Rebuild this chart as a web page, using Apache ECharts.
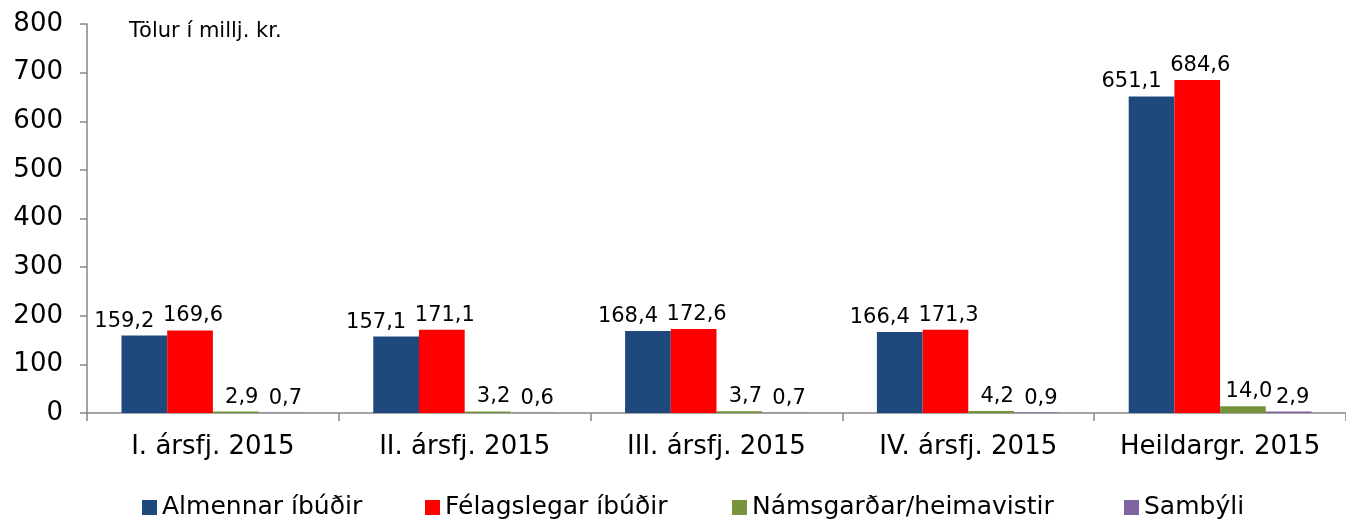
<!DOCTYPE html>
<html>
<head>
<meta charset="utf-8">
<script src="https://cdn.jsdelivr.net/npm/echarts@6/dist/echarts.min.js"></script>
<style>
  html, body { margin: 0; padding: 0; background: #fff; }
  #chart { width: 1346px; height: 519px; }
</style>
</head>
<body>
<div id="chart"></div>
<script>
// data
const categories = ['I. ársfj. 2015', 'II. ársfj. 2015', 'III. ársfj. 2015', 'IV. ársfj. 2015', 'Heildargr. 2015'];
const almennar = [159.2, 157.1, 168.4, 166.4, 651.1];
const felagslegar = [169.6, 171.1, 172.6, 171.3, 684.6];
const namsgardar = [2.9, 3.2, 3.7, 4.2, 14.0];
const sambyli = [0.7, 0.6, 0.7, 0.9, 2.9];
const yTicks = [0, 100, 200, 300, 400, 500, 600, 700, 800];

const font = '"DejaVu Sans", Verdana, sans-serif';
const fmt = p => p.value.toFixed(1).replace('.', ',');

const seriesDefs = [
  { name: 'Almennar íbúðir', data: almennar, color: '#1F497D', offset: [-20, 0] },
  { name: 'Félagslegar íbúðir', data: felagslegar, color: '#FF0000', offset: [3, 0] },
  { name: 'Námsgarðar/heimavistir', data: namsgardar, color: '#77933C', offset: [6, 0] },
  { name: 'Sambýli', data: sambyli, color: '#8064A2', offset: [4, 0] }
];
const legendLeft = [137, 420, 727, 1119];

const chart = echarts.init(document.getElementById('chart'));

chart.setOption({
  animation: false,
  textStyle: { fontFamily: font },
  grid: { left: 87, right: -8, top: 24, bottom: 106, containLabel: false },
  title: {
    text: 'Tölur í millj. kr.',
    left: 124, top: 16,
    textStyle: { fontFamily: font, fontSize: 21, fontWeight: 'normal', color: '#000' }
  },
  legend: seriesDefs.map((s, i) => ({
    data: [s.name],
    left: legendLeft[i],
    top: 490,
    itemWidth: 15, itemHeight: 15, itemGap: 6,
    icon: 'rect',
    textStyle: { fontFamily: font, fontSize: 25, color: '#000' }
  })),
  xAxis: {
    type: 'category',
    data: categories,
    axisLine: { lineStyle: { color: '#868686', width: 1.5 } },
    axisTick: { show: true, length: 8, lineStyle: { color: '#868686', width: 1.5 } },
    axisLabel: { color: '#000', fontSize: 26, margin: 21, fontFamily: font, interval: 0, hideOverlap: false }
  },
  yAxis: {
    type: 'value',
    min: 0, max: yTicks[yTicks.length - 1], interval: 100,
    splitLine: { show: false },
    axisLine: { show: true, lineStyle: { color: '#868686', width: 1.5 } },
    axisTick: { show: true, length: 7, lineStyle: { color: '#868686', width: 1.5 } },
    axisLabel: { color: '#000', fontSize: 26, margin: 24, fontFamily: font }
  },
  series: seriesDefs.map(s => ({
    name: s.name,
    type: 'bar',
    data: s.data,
    barGap: '0%',
    barCategoryGap: '27.4%',
    itemStyle: { color: s.color },
    label: {
      show: true, position: 'top', distance: 4,
      offset: s.offset,
      formatter: fmt,
      color: '#000', fontSize: 21, fontFamily: font
    }
  }))
});
</script>
</body>
</html>
